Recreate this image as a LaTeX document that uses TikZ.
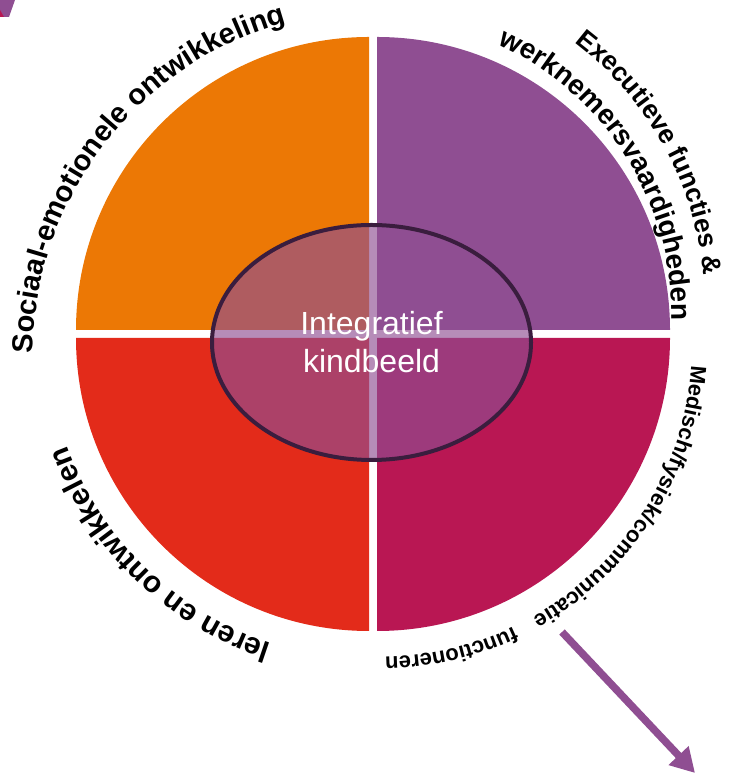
\documentclass[tikz,border=0pt]{standalone}
\usepackage{fontspec}
\setmainfont{Liberation Sans}
\usepackage{tikz}
\usetikzlibrary{arrows.meta,shapes.geometric,decorations.text}

\definecolor{seorange}{RGB}{236,120,5}
\definecolor{efpurple}{RGB}{143,78,146}
\definecolor{lored}{RGB}{227,43,26}
\definecolor{mfmagenta}{RGB}{185,23,83}
\definecolor{kbrand}{RGB}{58,29,62}

\begin{document}
\begin{tikzpicture}[x=1pt,y=1pt,
                    arclabel/.style={decorate,decoration={text along path,text align=center,text={#1}}},
                    arclabelleft/.style={decorate,decoration={text along path,text align=left,text={#1}}},
                    arclabelright/.style={decorate,decoration={text along path,text align=right,text={#1}}}]
  \useasboundingbox (0,0) rectangle (730,778);
  % hoekpunten van de kwarten
  \coordinate (tl) at (369,448);
  \coordinate (tr) at (377,448);
  \coordinate (bl) at (369,440);
  \coordinate (br) at (377,440);
  \fill[seorange]  (tl) -- ++(-293,0) arc[start angle=180,end angle=90,radius=293pt] -- cycle;
  \fill[efpurple]  (tr) -- ++(0,293) arc[start angle=90,end angle=0,radius=293pt] -- cycle;
  \fill[lored]     (bl) -- ++(0,-293) arc[start angle=270,end angle=180,radius=293pt] -- cycle;
  \fill[mfmagenta] (br) -- ++(293,0) arc[start angle=0,end angle=-90,radius=293pt] -- cycle;

  \node[ellipse,draw=kbrand,line width=4pt,fill=efpurple,fill opacity=.65,text opacity=1,
        minimum width=319pt,minimum height=235pt,text=white,align=center,
        font=\fontsize{32}{38}\selectfont] (kind) at (371.5,435.5) {Integratief\\kindbeeld};

  % teksten langs de cirkel
  \coordinate (soc) at (378,423);
  \coordinate (exe) at (373,472);
  \coordinate (wer) at (373,462);
  \coordinate (med) at (380,433);
  \coordinate (ler) at (373,444);
  \path[shift={(soc)},arclabel={|\bfseries\fontsize{29pt}{29pt}\selectfont|Sociaal-emotionele ontwikkeling}]
    (188:345pt) arc[start angle=188,end angle=97,radius=345pt];
  \path[shift={(exe)},arclabel={|\bfseries\fontsize{26.5pt}{26.5pt}\selectfont|Executieve functies {\&}}]
    (60:332pt) arc[start angle=60,end angle=-2,radius=332pt];
  \path[shift={(wer)},arclabel={|\bfseries\fontsize{28pt}{28pt}\selectfont|werknemersvaardigheden}]
    (70:299pt) arc[start angle=70,end angle=-5.5,radius=299pt];
  \path[shift={(med)},arclabelleft={|\bfseries\fontsize{22pt}{22pt}\selectfont|Medisch/fysiek/communicatie}]
    (-3.7:312pt) arc[start angle=-3.7,end angle=-75,radius=312pt];
  \path[shift={(med)},arclabelright={|\bfseries\fontsize{22pt}{22pt}\selectfont|functioneren}]
    (-50:312pt) arc[start angle=-50,end angle=-89.1,radius=312pt];
  \path[shift={(ler)},arclabel={|\bfseries\fontsize{30pt}{30pt}\selectfont|leren en ontwikkelen}]
    (256:326pt) arc[start angle=256,end angle=196,radius=326pt];

  % pijl rechtsonder
  \coordinate (pijlA) at (562,146);
  \coordinate (pijlB) at (695,5);
  \draw[efpurple,line width=7.5pt,-{Triangle[length=24pt,width=26pt]}] (pijlA) -- (pijlB);

  % stukje vorm linksboven
  \fill[efpurple] (0,778) -- (15,778) -- (9,761) -- (0,761) -- cycle;
  \fill[mfmagenta] (0,768) -- (4,761) -- (0,761) -- cycle;
\end{tikzpicture}
\end{document}
